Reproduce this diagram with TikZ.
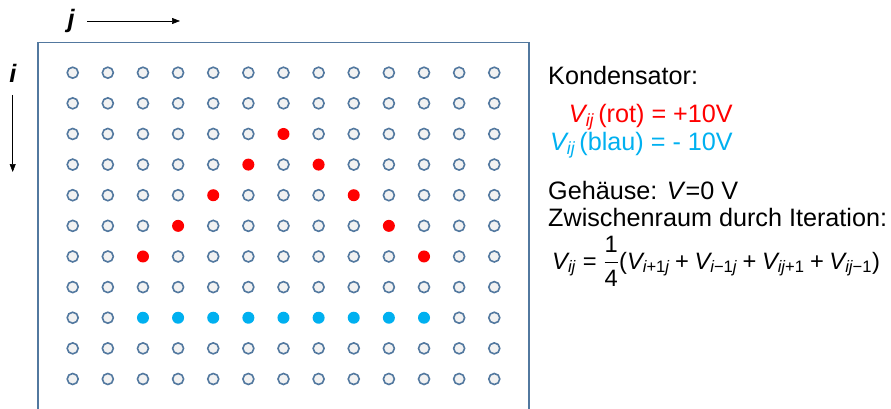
\documentclass[tikz,border=0pt]{standalone}
\usepackage{amsmath}
\usepackage{fontspec}
\setmainfont{Liberation Sans}
\usetikzlibrary{arrows.meta}
\definecolor{framecol}{HTML}{52789F}
\definecolor{ptfill}{HTML}{F2F2F2}
\definecolor{rotcol}{HTML}{FF0000}
\definecolor{blaucol}{HTML}{00B0F0}
\newcommand{\bigtext}{\fontsize{25.2}{29}\selectfont}
\newcommand{\Vij}{\textit{V}_{\textit{ij}}}
\begin{document}
\begin{tikzpicture}[x=1pt,y=-1pt,
  opendot/.style={circle,draw=framecol,fill=ptfill,line width=1.6pt,minimum size=11pt,inner sep=0pt},
  reddot/.style={circle,fill=rotcol,minimum size=12pt,inner sep=0pt},
  bluedot/.style={circle,fill=blaucol,minimum size=12pt,inner sep=0pt},
  axis/.style={-{Triangle[length=8pt,width=6pt]},line width=0.6pt,black},
  lbl/.style={font=\bigtext,inner sep=0pt},
  idx/.style={font=\bigtext\bfseries\itshape,inner sep=0pt}]
\useasboundingbox (0,0) rectangle (891,409);
% frame
\draw[framecol,line width=1.5pt] (38,409) -- (38,42.7) -- (529,42.7) -- (529,409);
% axes
\node[idx] (jl) at (71,21) {j};
\node[idx] (il) at (13,73) {i};
\coordinate (ja) at (87,21);
\coordinate (jb) at (180,21);
\coordinate (ia) at (12.7,95);
\coordinate (ib) at (12.7,172);
\draw[axis] (ja) -- (jb);
\draw[axis] (ia) -- (ib);
% grid
\foreach \i in {0,...,10}{\foreach \j in {0,...,12}{
  \def\st{opendot}
  \ifnum\i=8 \ifnum\j>1 \ifnum\j<11 \def\st{bluedot}\fi\fi\fi
  \pgfmathtruncatemacro\r{abs(\j-6)+2}
  \ifnum\i>1 \ifnum\i<7 \ifnum\i=\r \def\st{reddot}\fi\fi\fi
  \node[\st] (p-\i-\j) at ({72.7+35.13*\j},{72.7+30.63*\i}) {};
}}
% text
\node[lbl,anchor=base west] (kond) at (548,85) {Kondensator:};
\node[lbl,anchor=base east,text=rotcol] (rot) at (733,122.7) {$\Vij$\,(rot) = +10V};
\node[lbl,anchor=base east,text=blaucol] (blau) at (733,150.7) {$\Vij$\,(blau) = - 10V};
\node[lbl,anchor=base west] (geh) at (548,199.3) {Gehäuse: \textit{V}=0 V};
\node[lbl,anchor=base west] (zw) at (548,226) {Zwischenraum durch Iteration:};
\node[anchor=base west,inner sep=0pt,font=\fontsize{23.7}{27}\selectfont] (form) at (552,269)
  {$\Vij \mathrel{\text{=}} \dfrac{\text{1}}{\text{4}}\text{(}\textit{V}_{\textit{i}\text{+1}\textit{j}}
   \mathbin{\text{+}}\textit{V}_{\textit{i}\text{−1}\textit{j}}
   \mathbin{\text{+}}\textit{V}_{\textit{ij}\text{+1}}
   \mathbin{\text{+}}\textit{V}_{\textit{ij}\text{−1}}\text{)}$};
\end{tikzpicture}
\end{document}
